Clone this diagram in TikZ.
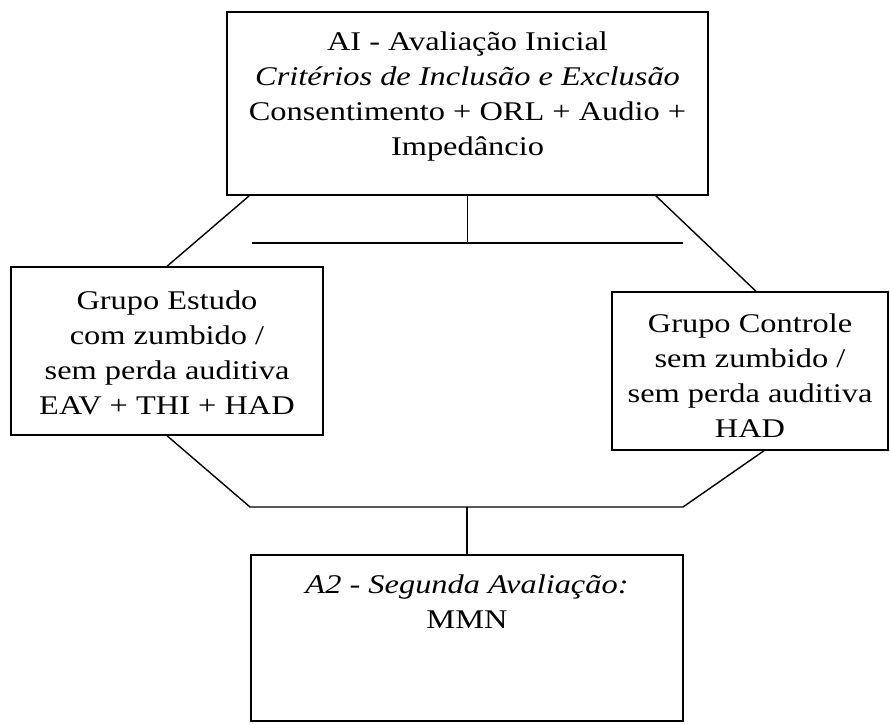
\documentclass[tikz,border=0pt]{standalone}
\usepackage{fontspec}
\setmainfont{Liberation Serif}[FakeStretch=1.2]
\usetikzlibrary{positioning}

\begin{document}
\begin{tikzpicture}[x=1pt, y=-1pt, line width=1.4pt,
    every node/.style={font=\fontsize{27}{35}\selectfont},
    box/.style={draw, inner sep=0pt},
    txt/.style={align=center, inner sep=0pt, anchor=base}]
  \useasboundingbox (0,0) rectangle (890,724);

  % boxes
  \node[box, minimum width=481pt, minimum height=183pt] (ai) at (467.5,103.5) {};
  \node[box, minimum width=312pt, minimum height=168pt] (estudo) at (167,351) {};
  \node[box, minimum width=276pt, minimum height=158pt] (controle) at (750,371) {};
  \node[box, minimum width=432pt, minimum height=166pt] (a2) at (467,638) {};

  % texts (anchored at the baseline of the last line)
  \node[txt] (aitxt) at (467.5,155) {AI - Avaliação Inicial\\
    \textit{Critérios de Inclusão e Exclusão}\\
    Consentimento + ORL + Audio +\\ Impedâncio};
  \node[txt] (estudotxt) at (167,414) {Grupo Estudo\\ com zumbido /\\
    sem perda auditiva\\ EAV + THI + HAD};
  \node[txt] (controletxt) at (750,437) {Grupo Controle\\ sem zumbido /\\
    sem perda auditiva\\ HAD};
  \node[txt] (a2txt) at (467,628) {\textit{A2 - Segunda Avaliação:}\\ MMN};

  % connectors
  \coordinate (barL) at (252,243);
  \coordinate (barR) at (683,243);
  \coordinate (lowL) at (250,507);
  \coordinate (lowR) at (683,507);

  \draw (ai.south) -- (ai.south |- barL);
  \draw (barL) -- (barR);
  \draw ([xshift=23pt]ai.south west) -- (estudo.north);
  \draw ([xshift=-53pt]ai.south east) -- ([xshift=6pt]controle.north);
  \draw (estudo.south) -- (lowL) -- (lowR) -- ([xshift=14pt]controle.south);
  \draw (a2.north) -- (a2.north |- lowL);
\end{tikzpicture}
\end{document}
